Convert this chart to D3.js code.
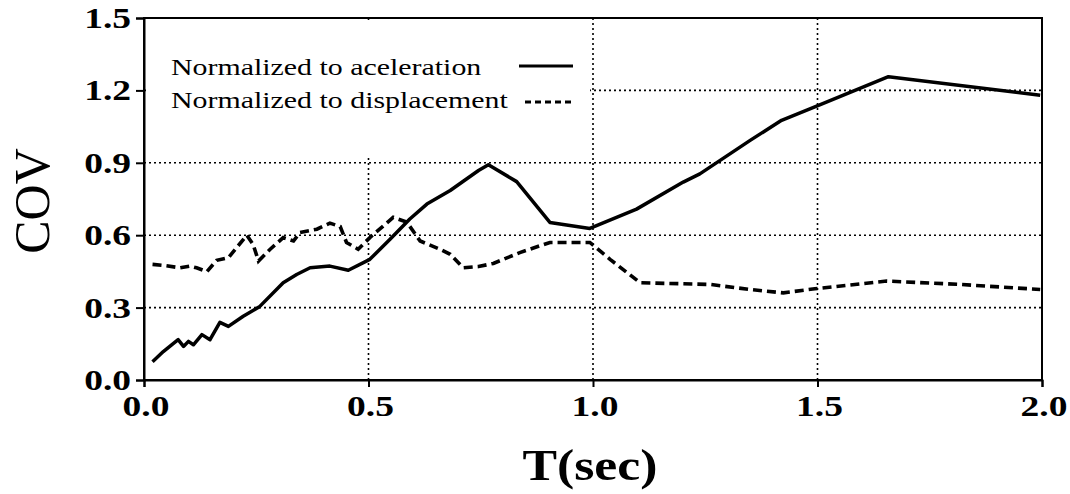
<!DOCTYPE html>
<html><head><meta charset="utf-8">
<script src="https://cdn.jsdelivr.net/npm/d3@7/dist/d3.min.js"></script>
<style>body{margin:0;background:#fff}svg{display:block}</style>
</head><body>
<svg id="c" width="1070" height="494"></svg>
<script>
// Data
const accT = [0.019,0.043,0.076,0.088,0.099,0.110,0.129,0.147,0.169,0.188,0.221,0.258,0.310,0.340,0.370,0.414,0.455,0.503,0.548,0.592,0.630,0.682,0.745,0.767,0.830,0.904,0.993,1.097,1.201,1.238,1.350,1.420,1.494,1.658,1.996];
const accCOV = [0.076,0.118,0.167,0.139,0.160,0.146,0.188,0.167,0.239,0.222,0.264,0.305,0.403,0.437,0.465,0.472,0.455,0.500,0.583,0.667,0.729,0.785,0.868,0.892,0.822,0.653,0.628,0.708,0.820,0.854,0.993,1.076,1.132,1.257,1.180];
const dispT = [0.019,0.043,0.080,0.102,0.117,0.140,0.162,0.188,0.229,0.243,0.255,0.281,0.310,0.333,0.347,0.385,0.414,0.437,0.451,0.477,0.503,0.555,0.585,0.615,0.659,0.682,0.711,0.745,0.778,0.837,0.904,0.993,1.038,1.105,1.261,1.350,1.424,1.494,1.654,1.817,1.996];
const dispCOV = [0.479,0.475,0.465,0.472,0.465,0.449,0.496,0.507,0.600,0.562,0.493,0.542,0.590,0.576,0.611,0.625,0.650,0.636,0.570,0.542,0.590,0.674,0.655,0.576,0.542,0.521,0.465,0.470,0.483,0.528,0.570,0.570,0.500,0.403,0.396,0.375,0.361,0.378,0.410,0.396,0.375];
const xTicks = [0.0,0.5,1.0,1.5,2.0];
const yTicks = [0.0,0.3,0.6,0.9,1.2,1.5];
const seriesNames = ["Normalized to aceleration","Normalized to displacement"];

const svg = d3.select("#c");
const L=144, R=1042, T=18, B=380;
const x = d3.scaleLinear().domain([0,2]).range([L,R]);
const y = d3.scaleLinear().domain([0,1.5]).range([B,T]);
const font = "'Liberation Serif','Times New Roman',serif";

// gridlines
const g = svg.append("g");
g.selectAll(".gy").data(yTicks.filter(v=>v>0 && v<1.5)).enter().append("line")
  .attr("x1",L).attr("x2",R).attr("y1",d=>y(d)).attr("y2",d=>y(d))
  .attr("stroke","#000").attr("stroke-width",1.6).attr("stroke-dasharray","2,3");
g.selectAll(".gx").data(xTicks.filter(v=>v>0 && v<2)).enter().append("line")
  .attr("x1",d=>x(d)).attr("x2",d=>x(d)).attr("y1",T).attr("y2",B)
  .attr("stroke","#000").attr("stroke-width",1.6).attr("stroke-dasharray","2,3");

// legend box (white, covering grid)
svg.append("rect").attr("x",L+2).attr("y",T+2).attr("width",444).attr("height",138).attr("fill","#fff");

// lines
const line = d3.line().x(d=>x(d[0])).y(d=>y(d[1]));
svg.append("path").datum(accT.map((t,i)=>[t,accCOV[i]])).attr("d",line)
  .attr("fill","none").attr("stroke","#000").attr("stroke-width",3.5).attr("stroke-linejoin","round");
svg.append("path").datum(dispT.map((t,i)=>[t,dispCOV[i]])).attr("d",line)
  .attr("fill","none").attr("stroke","#000").attr("stroke-width",3.6).attr("stroke-dasharray","9,5");

// frame
svg.append("rect").attr("x",L).attr("y",T).attr("width",R-L).attr("height",B-T)
  .attr("fill","none").attr("stroke","#000").attr("stroke-width",2);

// axes
const ax = svg.append("g").attr("transform",`translate(0,${B})`)
  .call(d3.axisBottom(x).tickValues(xTicks).tickSize(7).tickFormat(""));
const ay = svg.append("g").attr("transform",`translate(${L},0)`)
  .call(d3.axisLeft(y).tickValues(yTicks).tickSize(8).tickFormat(""));
[ax,ay].forEach(a=>{a.select(".domain").attr("stroke","#000").attr("stroke-width",2);
  a.selectAll(".tick line").attr("stroke","#000").attr("stroke-width",2);});

// tick labels
svg.selectAll(".xl").data(xTicks).enter().append("text")
  .attr("transform",d=>`translate(${x(d)+2},416) scale(1.25,1)`)
  .attr("text-anchor","middle").attr("font-family",font).attr("font-weight","bold")
  .attr("font-size",30).text(d=>d.toFixed(1));
svg.selectAll(".yl").data(yTicks).enter().append("text")
  .attr("transform",d=>`translate(131,${y(d)+10}) scale(1.25,1)`)
  .attr("text-anchor","end").attr("font-family",font).attr("font-weight","bold")
  .attr("font-size",30).text(d=>d.toFixed(1));

// axis titles
svg.append("text").attr("transform","translate(49,201) rotate(-90)")
  .attr("text-anchor","middle").attr("font-family",font).attr("font-size",50).text("COV");
svg.append("text").attr("transform","translate(590,480) scale(1.15,1)")
  .attr("text-anchor","middle").attr("font-family",font).attr("font-weight","bold")
  .attr("font-size",45).text("T(sec)");

// legend
const leg = svg.append("g");
[0,1].forEach(i=>{
  const yy = [75,108][i];
  leg.append("text").attr("transform",`translate(171,${yy}) scale(1.3,1)`)
    .attr("font-family",font).attr("font-size",23).text(seriesNames[i]);
});
leg.append("line").attr("x1",519).attr("x2",573).attr("y1",66).attr("y2",66)
  .attr("stroke","#000").attr("stroke-width",3.2);
leg.append("line").attr("x1",525).attr("x2",573).attr("y1",102).attr("y2",102)
  .attr("stroke","#000").attr("stroke-width",3.2).attr("stroke-dasharray","6,4");
</script>
</body></html>
